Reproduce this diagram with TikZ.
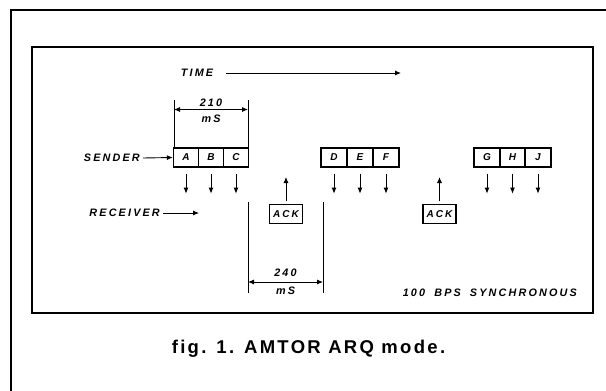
\documentclass[tikz,border=0pt]{standalone}
\usepackage{fontspec}
\setmainfont{Liberation Sans}
\newfontfamily\lblfont[LetterSpace=20]{Liberation Sans}
\newfontfamily\capfont[LetterSpace=12.5]{Liberation Sans}
\usetikzlibrary{arrows.meta}
\begin{document}
\begin{tikzpicture}[x=1pt,y=-1pt,
  frame/.style={line width=1.5pt},
  cell/.style={draw,line width=1.3pt,minimum height=19pt,inner sep=0pt,font=\lblfont\bfseries\itshape\fontsize{10}{12}\selectfont},
  lbl/.style={inner sep=0pt,font=\lblfont\bfseries\itshape\fontsize{10.8}{13}\selectfont},
  tip/.tip={Latex[length=6pt,width=5pt]},
  arr/.style={line width=0.9pt,-tip},
  dimarr/.style={line width=0.9pt,tip-tip},
  ext/.style={line width=0.9pt}]
\useasboundingbox (0,0) rectangle (606,391);
% frames
\coordinate (o1) at (11,391);
\coordinate (o2) at (11,10);
\coordinate (o3) at (606,10);
\draw[frame] (o1) -- (o2) -- (o3);
\coordinate (f1) at (32,47);
\coordinate (f2) at (593,313);
\draw[frame] (f1) rectangle (f2);
% time
\node[lbl] (time) at (197,73) {TIME};
\coordinate (t1) at (226,73);
\coordinate (t2) at (401,73);
\draw[arr] (t1) -- (t2);
% sender boxes
\node[cell,minimum width=25pt] (A) at (186,157.5) {A};
\node[cell,minimum width=25pt] (B) at (211,157.5) {B};
\node[cell,minimum width=25pt] (C) at (236,157.5) {C};
\node[cell,minimum width=26pt] (D) at (334,157.5) {D};
\node[cell,minimum width=26pt] (E) at (360,157.5) {E};
\node[cell,minimum width=26pt] (F) at (386,157.5) {F};
\node[cell,minimum width=26pt] (G) at (487,157.5) {G};
\node[cell,minimum width=25pt] (H) at (512.5,157.5) {H};
\node[cell,minimum width=26pt] (J) at (538,157.5) {J};
\foreach \n in {A,B,C,D,E,F,G,H,J}{
  \coordinate (\n s) at ([yshift=-6pt]\n.south);
  \coordinate (\n t) at ([yshift=-26pt]\n.south);
  \draw[arr] (\n s) -- (\n t);
}
% labels
\node[lbl,anchor=east] (sender) at (140,158) {SENDER};
\coordinate (s1) at (143,158);
\draw[arr] (s1) -- (A.west);
\node[lbl,anchor=east] (receiver) at (160,213) {RECEIVER};
\coordinate (r1) at (163,213);
\coordinate (r2) at (199,213);
\draw[arr] (r1) -- (r2);
% ACK boxes
\node[cell,minimum width=33pt,minimum height=19pt] (ack1) at (286,214) {ACK};
\node[cell,minimum width=33pt,minimum height=19pt] (ack2) at (439.5,214) {ACK};
\coordinate (a1s) at (286,201);
\coordinate (a1t) at (286,177);
\coordinate (a2s) at (439.5,201);
\coordinate (a2t) at (439.5,177);
\draw[arr] (a1s) -- (a1t);
\draw[arr] (a2s) -- (a2t);
% 210 mS dimension
\coordinate (d1a) at (174,100);
\coordinate (d1b) at (174,148);
\coordinate (d2a) at (248,100);
\coordinate (d2b) at (248,148);
\draw[ext] (d1a) -- (d1b);
\draw[ext] (d2a) -- (d2b);
\coordinate (d1m) at (174,109.5);
\coordinate (d2m) at (248,109.5);
\draw[dimarr] (d1m) -- (d2m);
\node[lbl] (n210) at (211,102.5) {210};
\node[lbl] (ms1) at (211,118.5) {mS};
% 240 mS dimension
\coordinate (e1a) at (248,202);
\coordinate (e1b) at (248,293);
\coordinate (e2a) at (323,202);
\coordinate (e2b) at (323,293);
\draw[ext] (e1a) -- (e1b);
\draw[ext] (e2a) -- (e2b);
\coordinate (e1m) at (248,282);
\coordinate (e2m) at (323,282);
\draw[dimarr] (e1m) -- (e2m);
\node[lbl] (n240) at (285.5,273) {240};
\node[lbl] (ms2) at (285.5,290.5) {mS};
% rate
\node[lbl,anchor=east] (rate) at (577,293) {100\hspace{4pt} BPS\hspace{4pt} SYNCHRONOUS};
% caption
\node[inner sep=0pt,font=\capfont\bfseries\fontsize{18.5}{22}\selectfont] (cap) at (308.5,349) {fig. 1. AMTOR ARQ mode.};
\end{tikzpicture}
\end{document}
